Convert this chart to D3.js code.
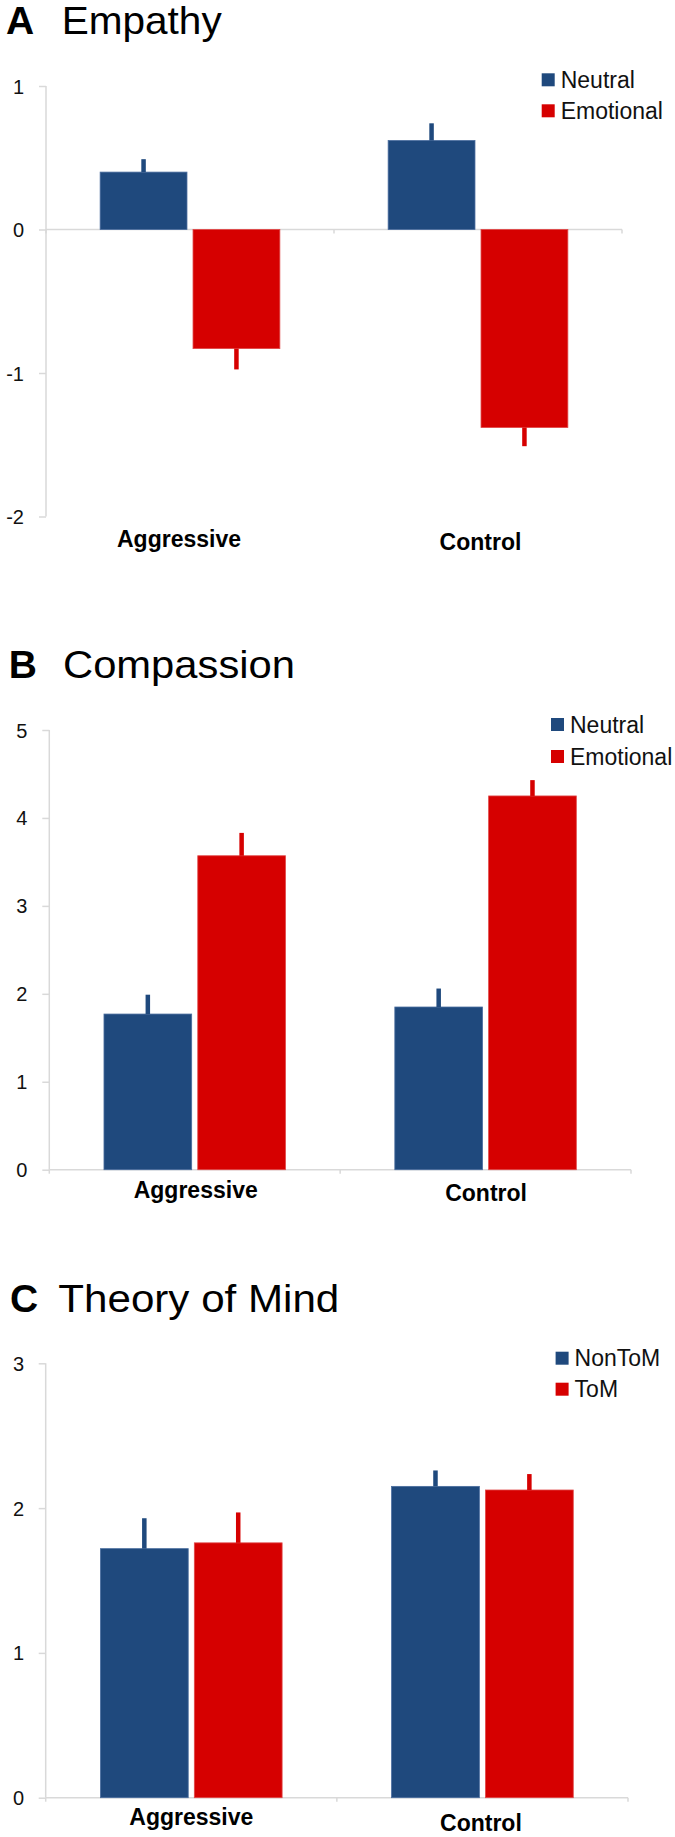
<!DOCTYPE html>
<html>
<head>
<meta charset="utf-8">
<script src="https://cdn.jsdelivr.net/npm/d3@7"></script>
<style>
  html, body { margin: 0; padding: 0; background: #fff; }
  svg { display: block; }
  text { font-family: "Liberation Sans", Arial, Helvetica, sans-serif; }
</style>
</head>
<body>
<script>
// ---------------- data ----------------
const groups = ["Aggressive", "Control"];

const empathySeries = ["Neutral", "Emotional"];
const empathyNeutral = [0.40, 0.62];
const empathyNeutralErr = [0.09, 0.12];
const empathyEmotional = [-0.83, -1.38];
const empathyEmotionalErr = [0.145, 0.13];
const empathyTicks = [-2, -1, 0, 1];

const compassionSeries = ["Neutral", "Emotional"];
const compassionNeutral = [1.77, 1.85];
const compassionNeutralErr = [0.22, 0.21];
const compassionEmotional = [3.57, 4.25];
const compassionEmotionalErr = [0.26, 0.18];
const compassionTicks = [0, 1, 2, 3, 4, 5];

const tomSeries = ["NonToM", "ToM"];
const tomNonToM = [1.72, 2.15];
const tomNonToMErr = [0.21, 0.11];
const tomToM = [1.76, 2.125];
const tomToMErr = [0.21, 0.11];
const tomTicks = [0, 1, 2, 3];

// ---------------- style ----------------
const colors = ["#1F497D", "#D60000"];
const strokes = ["#4a6d9e", "#e04848"];
const axisColor = "#d9d9d9";

const W = 675, H = 1837;
const svg = d3.select("body").append("svg").attr("width", W).attr("height", H);

const panels = [
  {
    letter: "A", title: "Empathy", titleX: [6, 61.7], titleY: 34.3, titleLen: 160,
    seriesNames: empathySeries,
    values: [empathyNeutral, empathyEmotional],
    errors: [empathyNeutralErr, empathyEmotionalErr],
    ticks: empathyTicks,
    x0: 46, x1: 622, yTop: 86, yBot: 516.5,
    labelRight: 24,
    xLabelDx: [-11, 2.5], xLabelY: [546.7, 549.5],
    legendX: 541.7, legendY: 73.3, legendStep: 31
  },
  {
    letter: "B", title: "Compassion", titleX: [8.7, 63], titleY: 678.3, titleLen: 232,
    seriesNames: compassionSeries,
    values: [compassionNeutral, compassionEmotional],
    errors: [compassionNeutralErr, compassionEmotionalErr],
    ticks: compassionTicks,
    x0: 49.3, x1: 631, yTop: 730, yBot: 1169.7,
    labelRight: 27.3,
    xLabelDx: [1, 0.5], xLabelY: [1197.7, 1201],
    legendX: 551, legendY: 718, legendStep: 32
  },
  {
    letter: "C", title: "Theory of Mind", titleX: [10, 58.3], titleY: 1311.7, titleLen: 281,
    seriesNames: tomSeries,
    values: [tomNonToM, tomToM],
    errors: [tomNonToMErr, tomToMErr],
    ticks: tomTicks,
    x0: 45.7, x1: 628, yTop: 1363.3, yBot: 1797.7,
    labelRight: 24,
    xLabelDx: [0, -1.5], xLabelY: [1825, 1830.5],
    legendX: 555.6, legendY: 1351.7, legendStep: 31
  }
];

panels.forEach(p => {
  const g = svg.append("g");
  const ext = d3.extent(p.ticks);
  const y = d3.scaleLinear().domain(ext).range([p.yBot, p.yTop]);
  const xg = d3.scaleBand().domain(groups).range([p.x0, p.x1]).padding(0);
  const bw = xg.bandwidth();
  const pad = bw * 0.188;
  const xs = d3.scaleBand().domain(p.seriesNames).range([pad, bw - pad]).paddingInner(0.065).paddingOuter(0);

  // title
  g.append("text").attr("x", p.titleX[0]).attr("y", p.titleY)
    .attr("font-size", 39).attr("font-weight", "bold").attr("fill", "#000").text(p.letter);
  g.append("text").attr("x", p.titleX[1]).attr("y", p.titleY)
    .attr("font-size", 39).attr("fill", "#000")
    .attr("textLength", p.titleLen).attr("lengthAdjust", "spacingAndGlyphs").text(p.title);

  // y axis (custom to match Excel look)
  const yAxis = d3.axisLeft(y).tickValues(p.ticks).tickSize(7).tickPadding(0).tickFormat(d3.format("d"));
  const ya = g.append("g").attr("transform", `translate(${p.x0},0)`).call(yAxis);
  ya.select(".domain").attr("stroke", axisColor).attr("stroke-width", 1.5).attr("d", `M0,${p.yTop}V${p.yBot}`);
  ya.selectAll(".tick line").attr("stroke", axisColor).attr("stroke-width", 1.5);
  ya.selectAll(".tick text")
    .attr("x", p.labelRight - p.x0).attr("dy", "0.35em")
    .attr("font-size", 20).attr("fill", "#111")
    .attr("font-family", "'Liberation Sans', Arial, sans-serif")
    .text(d => d < 0 ? "-" + Math.abs(d) : d);

  // x axis at zero
  const y0 = y(0);
  const xAxis = d3.axisBottom(xg).tickSize(0).tickFormat("");
  const xa = g.append("g").attr("transform", `translate(0,${y0})`).call(xAxis);
  xa.select(".domain").attr("stroke", axisColor).attr("stroke-width", 1.5)
    .attr("d", `M${p.x0},0H${p.x1}`);
  // boundary ticks between categories
  const bounds = [p.x0, ...groups.map(c => xg(c) + bw)];
  xa.selectAll(".bt").data(bounds).enter().append("line")
    .attr("x1", d => d).attr("x2", d => d).attr("y1", 0).attr("y2", 4)
    .attr("stroke", axisColor).attr("stroke-width", 1.5);

  // bars + error bars
  p.seriesNames.forEach((s, si) => {
    const vals = p.values[si], errs = p.errors[si];
    const sg = g.append("g");
    sg.selectAll("rect").data(groups).enter().append("rect")
      .attr("x", (c) => xg(c) + xs(s))
      .attr("width", xs.bandwidth())
      .attr("y", (c, i) => Math.min(y(vals[i]), y0))
      .attr("height", (c, i) => Math.abs(y(vals[i]) - y0))
      .attr("fill", colors[si])
      .attr("stroke", strokes[si]).attr("stroke-width", 0.8);
    sg.selectAll("rect.err").data(groups).enter().append("rect")
      .attr("class", "err")
      .attr("x", (c) => xg(c) + xs(s) + xs.bandwidth() / 2 - 2.25)
      .attr("width", 4.5)
      .attr("y", (c, i) => vals[i] >= 0 ? y(vals[i] + errs[i]) : y(vals[i]))
      .attr("height", (c, i) => Math.abs(y(vals[i] + (vals[i] >= 0 ? errs[i] : -errs[i])) - y(vals[i])))
      .attr("fill", colors[si]);
  });

  // category labels
  g.selectAll("text.cat").data(groups).enter().append("text")
    .attr("class", "cat")
    .attr("x", (c, i) => xg(c) + bw / 2 + p.xLabelDx[i])
    .attr("y", (c, i) => p.xLabelY[i])
    .attr("text-anchor", "middle")
    .attr("font-size", 23).attr("font-weight", "bold").attr("fill", "#000")
    .text(c => c);

  // legend
  const lg = g.append("g");
  p.seriesNames.forEach((s, si) => {
    lg.append("rect")
      .attr("x", p.legendX).attr("y", p.legendY + si * p.legendStep)
      .attr("width", 13).attr("height", 13).attr("fill", colors[si]);
    lg.append("text")
      .attr("x", p.legendX + 19).attr("y", p.legendY + si * p.legendStep + 14.5)
      .attr("font-size", 23).attr("fill", "#111").text(s);
  });
});
</script>
</body>
</html>
